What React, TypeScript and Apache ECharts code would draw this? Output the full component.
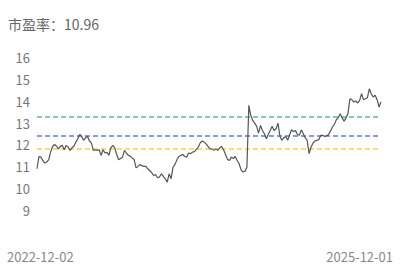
import React, { useEffect, useRef } from "react";
import * as echarts from "echarts";

const titleLabel = "市盈率：10.96";
const dateLabels = ["2022-12-02", "2025-12-01"];
const yTicks = [9, 10, 11, 12, 13, 14, 15, 16];
const refValues = [13.27, 12.42, 11.83];
const refColors = ["#68b494", "#6378cf", "#f6d148"];
const peValues = [
  10.91, 11.47, 11.44, 11.29, 11.17, 11.22, 11.32, 11.67, 11.93, 12.02,
  11.95, 11.82, 11.93, 11.98, 11.78, 11.98, 11.9, 11.75, 11.87, 11.95,
  12.13, 12.28, 12.48, 12.38, 12.21, 12.33, 12.39, 12.18, 12.08, 11.75,
  11.78, 11.75, 11.78, 11.52, 11.78, 11.63, 11.66, 11.52, 11.87, 11.98,
  11.87, 11.56, 11.32, 11.38, 11.44, 11.75, 11.63, 11.52, 11.49, 11.41,
  11.32, 10.95, 11.02, 11.11, 11.05, 11.02, 11.02, 10.91, 10.83, 10.73,
  10.6, 10.65, 10.5, 10.53, 10.68, 10.56, 10.45, 10.3, 10.68, 10.45,
  10.98, 11.11, 11.32, 11.47, 11.52, 11.56, 11.47, 11.44, 11.63, 11.6,
  11.67, 11.69, 11.8, 11.9, 12.1, 12.18, 12.13, 12.05, 11.93, 11.82,
  11.82, 11.75, 11.82, 11.75, 11.87, 11.93, 11.78, 11.56, 11.34, 11.29,
  11.44, 11.38, 11.47, 11.29, 11.14, 10.86, 10.76, 10.79, 10.98, 13.81,
  13.35, 13.12, 13.0, 12.86, 12.54, 12.89, 12.66, 12.51, 12.28, 12.48,
  12.66, 12.85, 12.66, 12.74, 13.0, 12.39, 12.21, 12.33, 12.39, 12.21,
  12.48, 12.69, 12.6, 12.66, 12.48, 12.44, 12.69, 12.51, 12.33, 12.21,
  11.6, 11.9, 12.08, 12.18, 12.21, 12.24, 12.44, 12.44, 12.39, 12.42,
  12.48, 12.63, 12.82, 12.94, 13.15, 13.24, 13.43, 13.24, 13.09, 13.24,
  13.43, 14.11, 14.07, 13.96, 14.01, 13.92, 14.04, 14.34, 14.07, 14.11,
  14.16, 14.57, 14.34, 14.19, 14.27, 14.07, 13.73, 13.96,
];

const FONT = "'Microsoft YaHei', 'Noto Sans CJK SC', sans-serif";

export default function App() {
  const ref = useRef<HTMLDivElement>(null);
  useEffect(() => {
    document.body.style.margin = "0";
    const chart = echarts.init(ref.current!, null, { renderer: "svg" });
    const categories = peValues.map((_, i) => String(i));
    const refSeries = refValues.map((v, i) => ({
      type: "line",
      data: [],
      symbol: "none",
      color: refColors[i],
      markLine: {
        silent: true,
        symbol: "none",
        label: { show: false },
        lineStyle: { color: refColors[i], type: [5, 3], width: 1.5, opacity: 1 },
        data: [{ yAxis: v }],
      },
    }));
    chart.setOption({
      animation: false,
      backgroundColor: "#ffffff",
      title: {
        text: titleLabel,
        left: 3,
        top: 12,
        textStyle: { fontSize: 14, fontWeight: "normal", color: "#666", fontFamily: FONT },
      },
      grid: { left: 37, right: 20, top: 57.5, bottom: 60.5, containLabel: false },
      xAxis: {
        type: "category",
        data: categories,
        boundaryGap: false,
        axisLine: { show: false },
        axisTick: { show: false },
        axisLabel: { show: false },
        splitLine: { show: false },
      },
      yAxis: {
        type: "value",
        min: yTicks[0],
        max: yTicks[yTicks.length - 1],
        interval: 1,
        axisLine: { show: false },
        axisTick: { show: false },
        splitLine: { show: false },
        axisLabel: { color: "#777", fontSize: 13, margin: 7, fontFamily: FONT },
      },
      graphic: [
        {
          type: "text",
          left: 7,
          top: 250,
          style: { text: dateLabels[0], fill: "#888", fontSize: 13, fontFamily: FONT },
        },
        {
          type: "text",
          right: 8,
          top: 250,
          style: { text: dateLabels[1], fill: "#888", fontSize: 13, fontFamily: FONT },
        },
      ],
      series: [
        ...refSeries,
        {
          type: "line",
          data: peValues,
          symbol: "none",
          color: "#555",
          lineStyle: { color: "#555", width: 1.2 },
          z: 5,
        },
      ],
    });
    return () => chart.dispose();
  }, []);
  return <div ref={ref} style={{ width: 401, height: 271 }} />;
}
